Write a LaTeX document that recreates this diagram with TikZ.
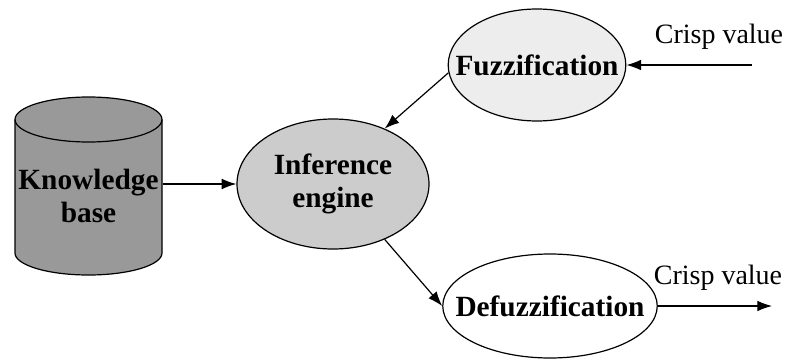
\documentclass[tikz,border=0pt]{standalone}
\usepackage{fontspec}
\setmainfont{Liberation Serif}
\usetikzlibrary{shapes.geometric,arrows.meta}

\tikzset{
  blob/.style={ellipse, draw, line width=0.9pt, inner ysep=0pt, inner xsep=-14pt,
    align=center, font=\fontsize{22}{24.75}\selectfont\bfseries},
  storetext/.style={inner sep=0pt, align=center, minimum width=110.25pt,
    font=\fontsize{22}{24.75}\selectfont\bfseries},
  label/.style={font=\fontsize{21}{24}\selectfont, inner sep=0pt},
}

\begin{document}
\begin{tikzpicture}[x=0.75pt, y=-0.75pt, line width=0.9pt,
    >={Latex[length=11pt,width=8pt]}]
  \useasboundingbox (0,0) rectangle (788,360);

  % drum for the knowledge base
  \draw[fill=black!40] (15,119.5) -- (15,253)
    arc[start angle=180, end angle=0, x radius=73.5, y radius=22] -- (162,119.5)
    arc[start angle=0, end angle=-180, x radius=73.5, y radius=22.5] -- cycle;
  \draw (15,119.5) arc[start angle=180, end angle=0, x radius=73.5, y radius=22.5];

  % the four blocks
  \node[storetext] (kb) at (88.5,196) {Knowledge\\base};
  \node[blob, fill=black!20, minimum width=144pt, minimum height=97.5pt] (ie) at (333,184) {Inference\\engine};
  \node[blob, fill=black!7, minimum width=130.5pt, minimum height=84pt] (fz) at (537,65) {Fuzzification};
  \node[blob, fill=white, minimum width=153.75pt, minimum height=78pt] (dz) at (550,306) {Defuzzification};

  % loose ends of the input and output
  \coordinate (in) at (752,65);
  \coordinate (out) at (772,306);
  \node[label] (inlbl) at (719,37) {Crisp value};
  \node[label] (outlbl) at (718,278) {Crisp value};

  \draw[->] (in) -- (fz.east);
  \draw[->] (fz.185) -- (ie.47);
  \draw[->] (kb.east |- ie.west) -- (ie.west);
  \draw[->] (ie.-47) -- (dz.west);
  \draw[->] (dz.east) -- (out);
\end{tikzpicture}
\end{document}
